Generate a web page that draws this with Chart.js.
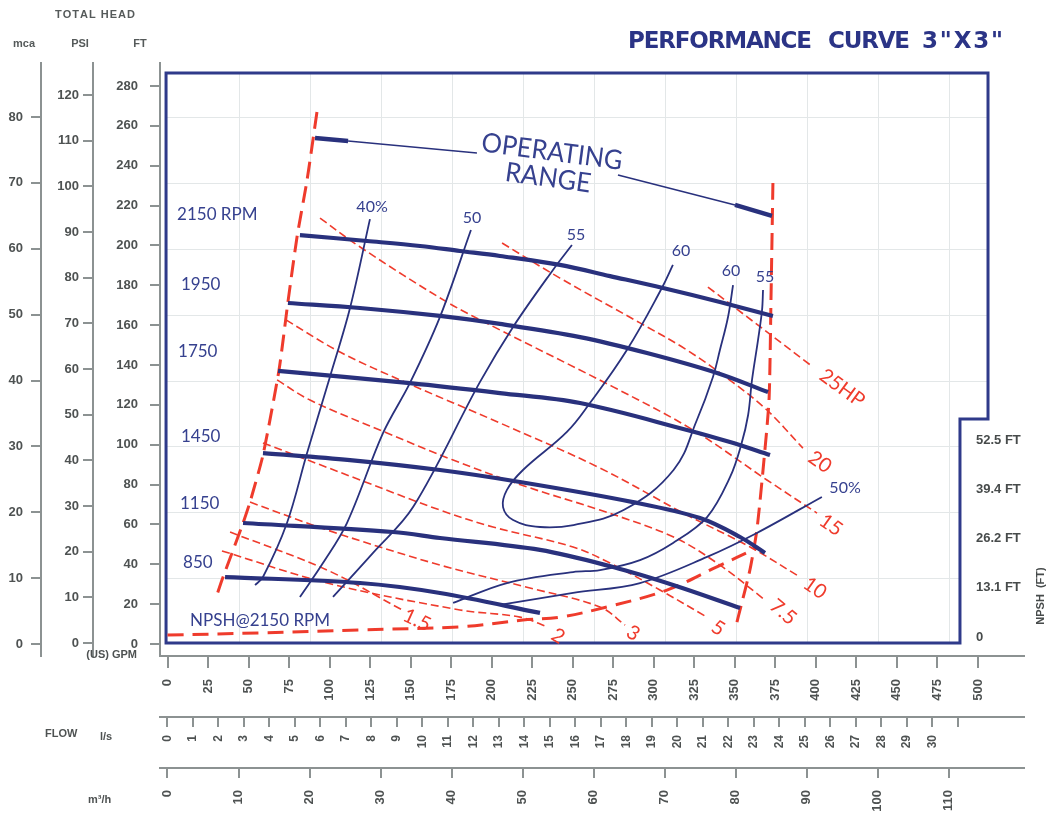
<!DOCTYPE html>
<html lang="en">
<head>
<meta charset="utf-8">
<title>Performance curve 3"X3"</title>
<script src="https://cdn.jsdelivr.net/npm/chart.js@4.4.1/dist/chart.umd.min.js"></script>
<style>
    html, body { margin: 0; padding: 0; background: #ffffff; }
    canvas { display: block; }
</style>
</head>
<body>
<canvas id="pump-chart" width="1050" height="813"></canvas>
<script>
// ruler ticks
const gpmTicks = [0, 25, 50, 75, 100, 125, 150, 175, 200, 225, 250, 275, 300, 325, 350, 375, 400, 425, 450, 475, 500];
const lpsTicks = [0, 1, 2, 3, 4, 5, 6, 7, 8, 9, 10, 11, 12, 13, 14, 15, 16, 17, 18, 19, 20, 21, 22, 23, 24, 25, 26, 27, 28, 29, 30, 31];
const m3hTicks = [0, 10, 20, 30, 40, 50, 60, 70, 80, 90, 100, 110];
const ftTicks = [0, 20, 40, 60, 80, 100, 120, 140, 160, 180, 200, 220, 240, 260, 280];
const psiTicks = [0, 10, 20, 30, 40, 50, 60, 70, 80, 90, 100, 110, 120];
const mcaTicks = [0, 10, 20, 30, 40, 50, 60, 70, 80];
const npshTicks = [0, 13.1, 26.2, 39.4, 52.5];

// head curves per speed (GPM / FT)
const rpmNames = ["2150 RPM", "1950", "1750", "1450", "1150", "850"];
const h2150Gpm = [81.7, 123.1, 155.8, 180.4, 205.1, 242.1, 273.0, 305.7, 340.8, 373.5];
const h2150Ft = [205.2, 202.2, 199.7, 197.2, 194.7, 190.2, 184.6, 178.6, 171.6, 164.6];
const h1950Gpm = [74.3, 118.7, 168.1, 205.1, 254.5, 295.8, 339.0, 370.5];
const h1950Ft = [171.1, 168.6, 164.6, 160.6, 154.0, 146.0, 136.0, 126.4];
const h1750Gpm = [68.2, 149.6, 205.1, 254.5, 320.5, 347.0, 371.7];
const h1750Ft = [137.0, 130.9, 125.9, 120.9, 107.4, 101.3, 94.8];
const h1450Gpm = [58.9, 112.6, 168.1, 217.5, 287.2, 328.5, 353.2, 368.6];
const h1450Ft = [95.8, 92.3, 87.3, 81.3, 71.2, 63.2, 53.7, 45.7];
const h1150Gpm = [46.6, 139.1, 168.1, 229.8, 274.9, 311.9, 353.2];
const h1150Ft = [60.7, 56.2, 53.2, 47.2, 38.6, 29.6, 18.1];
const h850Gpm = [35.5, 118.8, 168.1, 229.8];
const h850Ft = [33.6, 30.6, 25.6, 15.6];

// efficiency curves
const effNames = ["40%", "50", "55", "60", "60", "55", "50%"];
const e40Gpm = [124.9, 112.6, 100.2, 86.1, 73.7, 58.9, 54.0];
const e40Ft = [213.2, 168.6, 134.0, 95.8, 60.7, 33.6, 29.6];
const e50Gpm = [187.2, 168.1, 149.6, 133.0, 110.7, 95.9, 81.7];
const e50Ft = [207.7, 164.1, 131.0, 105.9, 60.7, 40.6, 23.6];
const e55Gpm = [249.5, 237.8, 213.2, 192.8, 151.5, 126.8, 102.1];
const e55Ft = [200.2, 187.7, 159.1, 131.5, 68.7, 45.7, 23.6];
const e60Gpm = [311.8, 305.0, 283.4, 260.6, 246.4, 219.3, 209.4, 207.0, 213.2, 229.8, 250.5, 281.4, 312.2, 326.6, 336.5, 340.8, 345.8, 348.9];
const e60Ft = [190.2, 178.6, 147.5, 120.9, 106.4, 87.3, 77.3, 68.7, 62.2, 58.7, 59.7, 67.2, 87.3, 112.4, 134.0, 147.5, 164.1, 180.1];
const e55bGpm = [176.2, 209.4, 250.2, 266.8, 291.5, 311.9, 332.9, 347.1, 353.9, 358.2, 360.6, 364.3, 366.8, 367.4];
const e55bFt = [20.6, 30.6, 36.1, 37.1, 42.1, 50.7, 63.7, 83.8, 99.8, 114.9, 132.5, 152.5, 167.6, 177.6];
const e50bGpm = [205.1, 250.2, 291.5, 332.9, 363.6, 403.7];
const e50bFt = [19.6, 25.6, 30.6, 43.7, 55.7, 73.8];

// power lines (HP)
const hpNames = ["1.5", "2", "3", "5", "7.5", "10", "15", "20", "25HP"];
const hp1p5Gpm = [38.6, 98.5, 144.8];
const hp1p5Ft = [56.2, 37.1, 17.1];
const hp2Gpm = [33.6, 98.5, 180.4, 217.5, 234.8];
const hp2Ft = [46.7, 30.6, 17.1, 13.5, 8.5];
const hp3Gpm = [50.9, 98.5, 168.1, 223.6, 266.8, 282.3];
const hp3Ft = [71.2, 57.2, 39.6, 28.1, 18.6, 9.5];
const hp5Gpm = [58.9, 118.8, 168.1, 200.8, 250.2, 273.0, 303.8, 332.8];
const hp5Ft = [100.9, 82.3, 67.2, 58.7, 48.7, 40.6, 27.1, 13.5];
const hp7p5Gpm = [67.6, 87.9, 135.4, 176.2, 221.8, 266.8, 312.2, 340.8, 368.6];
const hp7p5Ft = [132.5, 122.4, 105.9, 92.3, 78.8, 67.2, 53.7, 39.6, 22.1];
const hp10Gpm = [73.1, 106.4, 147.7, 205.1, 266.8, 320.5, 359.4, 390.2];
const hp10Ft = [162.6, 146.5, 131.0, 110.9, 88.3, 64.7, 48.7, 33.6];
const hp15Gpm = [94.1, 118.8, 172.4, 205.1, 274.9, 324.2, 369.8, 400.7];
const hp15Ft = [213.7, 199.2, 171.6, 157.6, 129.0, 107.4, 82.3, 65.7];
const hp20Gpm = [206.4, 242.1, 291.5, 320.5, 349.2, 369.8, 392.0];
const hp20Ft = [201.2, 183.6, 161.1, 147.5, 131.0, 117.4, 98.3];
const hp25Gpm = [333.4, 398.2];
const hp25Ft = [179.1, 139.0];

// operating range limits and the pointers to its caption
const opLeftGpm = [92.2, 86.1, 79.9, 74.3, 68.8, 58.9, 50.9, 46.6, 39.8, 33.6, 30.5];
const opLeftFt = [266.9, 232.8, 204.2, 171.6, 137.5, 94.8, 71.2, 60.7, 45.7, 32.1, 24.6];
const opRightGpm = [373.5, 372.3, 371.1, 367.4, 363.6, 359.3, 353.2, 351.3];
const opRightFt = [231.3, 172.6, 122.4, 87.3, 57.2, 37.1, 17.1, 11.0];
const pointerLeftGpm = [91.0, 111.4, 190.9];
const pointerLeftFt = [253.9, 252.4, 246.4];
const pointerRightGpm = [277.9, 350.1, 372.9];
const pointerRightFt = [235.3, 220.3, 214.8];

// NPSH required at 2150 rpm (GPM / NPSH ft)
const npshGpm = [0, 57.1, 118.8, 180.4, 219.3, 242.1, 271.1, 308.1, 338.9, 363.6];
const npshFt = [0.5, 1.1, 1.9, 2.7, 4.5, 5.3, 8.0, 12.5, 18.7, 23.7];

const NAVY = "#29317d";
const TEXT_NAVY = "#36418f";
const RED = "#ef3b2c";
const GREY = "#8c9292";
const TICK_TEXT = "#4e5252";

function pts(xs, ys) {
    return xs.map((v, i) => ({ x: v, y: ys[i] }));
}

function curve(xs, ys, color, width, dash, extra) {
    return Object.assign({
        data: pts(xs, ys),
        showLine: true,
        borderColor: color,
        borderWidth: width,
        borderDash: dash || [],
        tension: 0.35,
        pointRadius: 0,
        borderCapStyle: "butt",
        borderJoinStyle: "round",
        fill: false,
    }, extra || {});
}

const datasets = [
    // pointers at the caption
    curve(pointerLeftGpm.slice(0, 2), pointerLeftFt.slice(0, 2), NAVY, 4.5, null, { tension: 0 }),
    curve(pointerLeftGpm.slice(1), pointerLeftFt.slice(1), NAVY, 1.6, null, { tension: 0 }),
    curve(pointerRightGpm.slice(0, 2), pointerRightFt.slice(0, 2), NAVY, 1.6, null, { tension: 0 }),
    curve(pointerRightGpm.slice(1), pointerRightFt.slice(1), NAVY, 4.5, null, { tension: 0 }),
    // head curves
    curve(h2150Gpm, h2150Ft, NAVY, 4.2),
    curve(h1950Gpm, h1950Ft, NAVY, 4.2),
    curve(h1750Gpm, h1750Ft, NAVY, 4.2),
    curve(h1450Gpm, h1450Ft, NAVY, 4.2),
    curve(h1150Gpm, h1150Ft, NAVY, 4.2),
    curve(h850Gpm, h850Ft, NAVY, 4.2),
    // efficiency
    curve(e40Gpm, e40Ft, NAVY, 1.8),
    curve(e50Gpm, e50Ft, NAVY, 1.8),
    curve(e55Gpm, e55Ft, NAVY, 1.8),
    curve(e60Gpm, e60Ft, NAVY, 1.8, null, { tension: 0.4 }),
    curve(e55bGpm, e55bFt, NAVY, 1.8),
    curve(e50bGpm, e50bFt, NAVY, 1.8),
    // operating range
    curve(opLeftGpm, opLeftFt, RED, 3, [17, 8], { tension: 0.2 }),
    curve(opRightGpm, opRightFt, RED, 3, [17, 8], { tension: 0.2 }),
    // HP lines
    curve(hp1p5Gpm, hp1p5Ft, RED, 1.6, [8, 4]),
    curve(hp2Gpm, hp2Ft, RED, 1.6, [8, 4]),
    curve(hp3Gpm, hp3Ft, RED, 1.6, [8, 4]),
    curve(hp5Gpm, hp5Ft, RED, 1.6, [8, 4]),
    curve(hp7p5Gpm, hp7p5Ft, RED, 1.6, [8, 4]),
    curve(hp10Gpm, hp10Ft, RED, 1.6, [8, 4]),
    curve(hp15Gpm, hp15Ft, RED, 1.6, [8, 4]),
    curve(hp20Gpm, hp20Ft, RED, 1.6, [8, 4]),
    curve(hp25Gpm, hp25Ft, RED, 1.6, [8, 4]),
    // NPSH
    curve(npshGpm, npshFt, RED, 3, [16, 9], { yAxisID: "yNpsh" }),
];

// ranges picked so the six rulers line up with each other
function ruler(axis, position, weight, range, ticks, size, tickLength, padding, fontSize, labelOf) {
    return {
        type: "linear",
        axis: axis,
        position: position,
        weight: weight,
        min: range[0],
        max: range[1],
        afterBuildTicks: (scale) => {
            scale.ticks = ticks.map((v) => ({ value: v }));
        },
        afterFit: (scale) => {
            if (axis === "y") scale.width = size;
            else scale.height = size;
        },
        grid: { drawOnChartArea: false, drawTicks: true, tickLength: tickLength, color: GREY, lineWidth: 2 },
        border: { display: true, color: GREY, width: 2 },
        ticks: {
            autoSkip: false,
            padding: padding,
            color: TICK_TEXT,
            font: { family: "'Liberation Sans', Arial, sans-serif", size: fontSize, weight: "bold" },
            minRotation: axis === "x" ? 90 : 0,
            maxRotation: axis === "x" ? 90 : 0,
            callback: labelOf || ((v) => String(v)),
        },
    };
}

function spreadText(ctx, word, left, right, py) {
    const chars = [...word];
    const widths = chars.map((c) => ctx.measureText(c).width);
    const total = widths.reduce((a, b) => a + b, 0);
    const gap = chars.length > 1 ? (right - left - total) / (chars.length - 1) : 0;
    let cx = left;
    ctx.textAlign = "left";
    chars.forEach((c, i) => {
        ctx.fillText(c, cx, py);
        cx += widths[i] + gap;
    });
}

function put(ctx, text, px, py, font, color, align, rot, maxWidth) {
    ctx.save();
    ctx.translate(px, py);
    if (rot) ctx.rotate((rot * Math.PI) / 180);
    ctx.font = font;
    ctx.fillStyle = color;
    ctx.textAlign = align || "center";
    ctx.textBaseline = "middle";
    if (maxWidth) ctx.fillText(text, 0, 0, maxWidth);
    else ctx.fillText(text, 0, 0);
    ctx.restore();
}

const sheetPlugin = {
    id: "sheet",
    beforeDatasetsDraw(chart) {
        const { ctx, scales } = chart;
        const left = scales.x.getPixelForValue(-0.9);
        const right = scales.x.getPixelForValue(506.2);
        const notchX = scales.x.getPixelForValue(488.9);
        const top = scales.y.getPixelForValue(286.5);
        const notchY = scales.y.getPixelForValue(112.9);
        const bottom = scales.y.getPixelForValue(0.5);

        ctx.save();
        // faint grid on the metric rulers
        ctx.strokeStyle = "#e3e7e8";
        ctx.lineWidth = 1;
        m3hTicks.forEach((v) => {
            if (v === 0) return;
            const px = Math.round(scales.xM3h.getPixelForValue(v)) + 0.5;
            ctx.beginPath();
            ctx.moveTo(px, top);
            ctx.lineTo(px, bottom);
            ctx.stroke();
        });
        mcaTicks.forEach((v) => {
            if (v === 0) return;
            const py = Math.round(scales.yMca.getPixelForValue(v)) + 0.5;
            ctx.beginPath();
            ctx.moveTo(left, py);
            ctx.lineTo(py < notchY ? right : notchX, py);
            ctx.stroke();
        });

        // frame
        ctx.strokeStyle = "#2f3a8a";
        ctx.lineWidth = 3;
        ctx.beginPath();
        ctx.moveTo(left, top);
        ctx.lineTo(right, top);
        ctx.lineTo(right, notchY);
        ctx.lineTo(notchX, notchY);
        ctx.lineTo(notchX, bottom);
        ctx.lineTo(left, bottom);
        ctx.closePath();
        ctx.stroke();
        ctx.restore();
    },
    afterDraw(chart) {
        const { ctx, scales } = chart;
        const X = (v) => scales.x.getPixelForValue(v);
        const Y = (v) => scales.y.getPixelForValue(v);
        const lato = "'Lato', 'Open Sans', sans-serif";
        const bold = "'Liberation Sans', Arial, sans-serif";

        // title
        ctx.save();
        ctx.fillStyle = "#2b3486";
        ctx.font = "bold 23px 'DejaVu Sans', sans-serif";
        ctx.textBaseline = "middle";
        spreadText(ctx, "PERFORMANCE", 628, 812, 42);
        spreadText(ctx, "CURVE", 828, 910, 42);
        spreadText(ctx, '3"X3"', 922, 1003, 42);

        // ruler captions
        ctx.fillStyle = "#555a5a";
        ctx.font = "bold 11px " + bold;
        spreadText(ctx, "TOTAL HEAD", 55, 135, 15);
        ctx.restore();
        put(ctx, "mca", 24, 44, "bold 11px " + bold, "#555a5a");
        put(ctx, "PSI", 80, 44, "bold 11px " + bold, "#555a5a");
        put(ctx, "FT", 140, 44, "bold 11px " + bold, "#555a5a");
        put(ctx, "(US) GPM", 137, 655, "bold 11px " + bold, "#4e5252", "right");
        put(ctx, "FLOW", 45, 734, "bold 11px " + bold, "#4e5252", "left");
        put(ctx, "l/s", 100, 737, "bold 11px " + bold, "#4e5252", "left");
        put(ctx, "m³/h", 88, 800, "bold 11px " + bold, "#4e5252", "left");

        // NPSH ruler on the right
        npshTicks.forEach((v) => {
            const py = scales.yNpsh.getPixelForValue(v);
            put(ctx, v === 0 ? "0" : v.toFixed(1) + " FT", 976, py, "bold 13px " + bold, "#474b4b", "left");
        });
        put(ctx, "NPSH  (FT)", 1041, 596, "bold 11px " + bold, "#474b4b", "center", -90);

        // speed captions
        const rpmAt = [[5.9, 215.3], [8.3, 180.6], [6.5, 147.0], [8.3, 103.9], [7.7, 70.7], [9.6, 41.1]];
        rpmNames.forEach((name, i) => {
            put(ctx, name, X(rpmAt[i][0]), Y(rpmAt[i][1]), "17px " + lato, TEXT_NAVY, "left");
        });
        put(ctx, "NPSH@2150 RPM", X(13.9), Y(12.0), "17px " + lato, TEXT_NAVY, "left");

        // efficiency captions
        const effAt = [[126.2, 219.3], [187.8, 213.7], [252.0, 205.2], [316.8, 197.2], [347.6, 187.2], [368.6, 184.1], [418.0, 78.3]];
        effNames.forEach((name, i) => {
            put(ctx, name, X(effAt[i][0]), Y(effAt[i][1]), "16px " + lato, TEXT_NAVY);
        });

        // power captions
        const hpAt = [[153.9, 12.0, 25], [240.9, 4.0, 32], [287.2, 5.5, 32], [339.6, 8.0, 32], [379.8, 16.1, 40],
            [399.5, 28.1, 35], [409.3, 59.7, 35], [402.5, 91.3, 35], [416.2, 128.4, 36]];
        hpNames.forEach((name, i) => {
            put(ctx, name, X(hpAt[i][0]), Y(hpAt[i][1]), "20px " + lato, RED, "center", hpAt[i][2]);
        });

        // operating range caption
        put(ctx, "OPERATING", X(237.2), Y(246.9), "27px " + lato, TEXT_NAVY, "center", 7.5, 142);
        put(ctx, "RANGE", X(234.8), Y(233.8), "27px " + lato, TEXT_NAVY, "center", 8, 86);
    },
};

new Chart(document.getElementById("pump-chart"), {
    type: "scatter",
    data: { datasets: datasets },
    options: {
        responsive: false,
        animation: false,
        events: [],
        layout: { padding: { top: 63, right: 26, bottom: 0, left: 0 } },
        plugins: { legend: { display: false }, tooltip: { enabled: false } },
        scales: {
            x: ruler("x", "bottom", 0, [-4.63, 528.4], gpmTicks, 61, 12, 11, 13),
            xLps: ruler("x", "bottom", 1, [-0.294, 33.59], lpsTicks, 51, 10, 8, 12, (v) => (v === 31 ? "" : String(v))),
            xM3h: ruler("x", "bottom", 2, [-1.056, 120.63], m3hTicks, 45, 10, 12, 13),
            y: ruler("y", "left", 0, [-6.02, 291.52], ftTicks, 67, 10, 12, 13),
            yPsi: ruler("y", "left", 1, [-2.846, 127.0], psiTicks, 52, 10, 4, 13),
            yMca: ruler("y", "left", 2, [-1.822, 88.2], mcaTicks, 41, 10, 8, 13),
            yNpsh: { type: "linear", axis: "y", position: "right", display: false, min: -5.064, max: 152.99 },
        },
    },
    plugins: [sheetPlugin],
});
</script>
</body>
</html>
